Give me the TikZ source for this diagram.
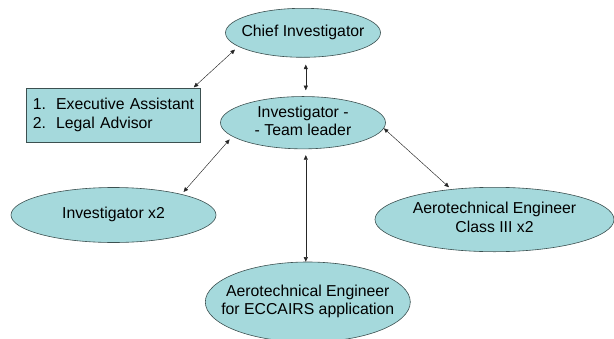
\documentclass[tikz,border=0pt]{standalone}
\usepackage{fontspec}
\setmainfont{Liberation Sans}
\usetikzlibrary{shapes.geometric,arrows.meta}
\definecolor{tealfill}{RGB}{165,217,220}
\definecolor{edgegray}{RGB}{60,80,80}
\newcommand\mylines[1]{\makebox[0pt]{\begin{tabular}{@{}c@{}}#1\end{tabular}}}
\tikzset{
  ell/.style={ellipse, draw=edgegray, line width=0.6pt, fill=tealfill, inner sep=0pt,
    font=\fontsize{15.8}{18.5}\selectfont},
  listbox/.style={rectangle, draw=edgegray, line width=0.6pt, fill=tealfill, inner sep=0pt,
    font=\fontsize{15.8}{19}\selectfont},
  link/.style={{Triangle[length=4.5pt,width=4pt]}-{Triangle[length=4.5pt,width=4pt]}, line width=0.45pt, black!85}
}
\begin{document}
\begin{tikzpicture}[x=1pt,y=-1pt]
\useasboundingbox (0,0) rectangle (614,338);
\node[ell, minimum width=155pt, minimum height=49pt] (chief) at (303,32.8) {\mylines{Chief Investigator}};
\node[ell, minimum width=165pt, minimum height=50pt] (team) at (303,122.7) {\mylines{Investigator -\\- Team leader}};
\node[ell, minimum width=205pt, minimum height=55pt] (inv) at (113.5,215) {\mylines{Investigator x2}};
\node[ell, minimum width=239pt, minimum height=64.4pt] (cls) at (494.5,219.5) {\mylines{Aerotechnical Engineer\\Class III x2}};
\node[ell, minimum width=205pt, minimum height=80pt] (ecc) at (307.8,302) {\mylines{Aerotechnical Engineer\\for ECCAIRS application}};
\node[listbox, minimum width=174.5pt, minimum height=54.4pt, text width=160.5pt, align=left] (box) at (113.2,115.5)
  {\begin{tabular}{@{}l@{\hspace{10pt}}l@{}}1.&Executive Assistant\\2.&Legal Advisor\end{tabular}};
\draw[link, shorten <=1pt, shorten >=4.5pt] (box.19) -- (chief.192);
\draw[link, shorten <=7pt, shorten >=6pt] ([xshift=2.8pt]chief.south) -- ([xshift=2.8pt]team.north);
\draw[link, shorten <=4pt, shorten >=3pt] (team.191) -- (inv.17);
\draw[link, shorten >=3pt] (team.-4) -- (cls.145);
\draw[link, shorten <=6pt] ([xshift=2.8pt]team.south) -- ([xshift=-2pt]ecc.north);
\end{tikzpicture}
\end{document}
